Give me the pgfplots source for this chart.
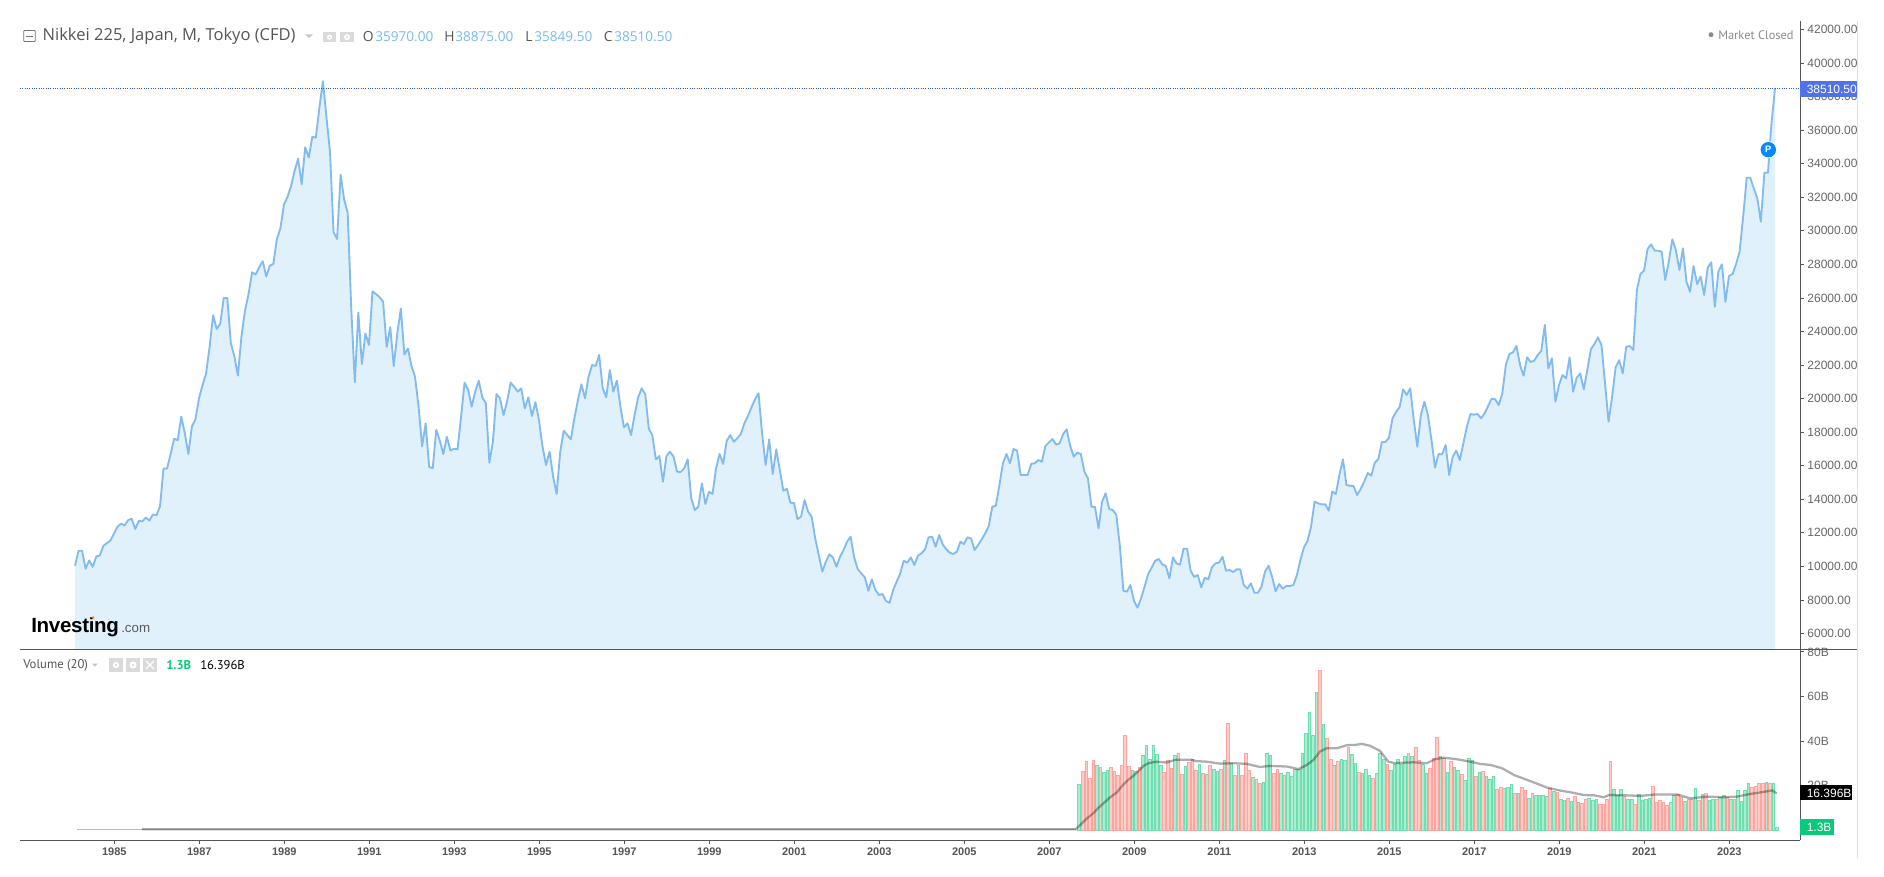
\documentclass[border=0pt]{standalone}
\usepackage{pgfplots}
\usepackage{pgfplotstable}
\usepackage{fontspec}
\pgfplotsset{compat=1.18}
\setmainfont{Liberation Sans}
\newfontfamily\hdr{PT Sans}
\newfontfamily\ttl{Open Sans}
\definecolor{lineblue}{HTML}{82BBF0}
\definecolor{fillblue}{HTML}{E1F1FB}
\definecolor{dashblue}{HTML}{2F55C8}
\definecolor{boxblue}{HTML}{4F72E6}
\definecolor{valblue}{HTML}{7AB8EE}
\definecolor{axgray}{HTML}{555555}
\definecolor{tickgray}{HTML}{666666}
\definecolor{hdrgray}{HTML}{555555}
\definecolor{icongray}{HTML}{DADADA}
\definecolor{gfill}{HTML}{ACEDD0}
\definecolor{gedge}{HTML}{6EDFB0}
\definecolor{rfill}{HTML}{FFCECA}
\definecolor{redge}{HTML}{FFA49E}
\definecolor{volgreen}{HTML}{0AC97A}
\definecolor{sepgray}{HTML}{DDE1EA}
\pgfplotstableread[row sep=\\]{
i v\\
0 10041\\1 10931\\2 10931\\3 9859\\4 10361\\5 9973\\6 10589\\7 10657\\8 11227\\9 11387\\10 11546\\11 11957\\
12 12367\\13 12549\\14 12435\\15 12755\\16 12846\\17 12230\\18 12709\\19 12686\\20 12914\\21 12732\\22 13097\\23 13051\\
24 13575\\25 15833\\26 15833\\27 16699\\28 17611\\29 17520\\30 18933\\31 17953\\32 16699\\33 18341\\34 18751\\35 20005\\
36 20803\\37 21487\\38 23083\\39 24975\\40 24155\\41 24451\\42 26001\\43 26001\\44 23311\\45 22513\\46 21373\\47 23721\\
48 25249\\49 26229\\50 27529\\51 27392\\52 27825\\53 28190\\54 27278\\55 27917\\56 28031\\57 29513\\58 30151\\59 31565\\
60 32021\\61 32659\\62 33571\\63 34301\\64 32773\\65 34985\\66 34369\\67 35600\\68 35555\\69 37333\\70 38915\\71 36763\\
72 34711\\73 29923\\74 29513\\75 33343\\76 31861\\77 31063\\78 25363\\79 20985\\80 25135\\81 22057\\82 23881\\83 23197\\
84 26389\\85 26229\\86 26047\\87 25773\\88 23083\\89 24269\\90 21943\\91 23881\\92 25363\\93 22627\\94 22992\\95 21943\\
96 21305\\97 19549\\98 17155\\99 18523\\100 15924\\101 15855\\102 18135\\103 17497\\104 16699\\105 17725\\106 16904\\107 17018\\
108 16973\\109 18924\\110 20951\\111 20514\\112 19520\\113 20414\\114 21070\\115 20076\\116 19719\\117 16182\\118 17434\\119 20275\\
120 20017\\121 19023\\122 19818\\123 20951\\124 20712\\125 20414\\126 20613\\127 19421\\128 20076\\129 18964\\130 19778\\131 18725\\
132 17136\\133 16043\\134 16838\\135 15347\\136 14314\\137 16838\\138 18089\\139 17831\\140 17573\\141 18825\\142 19917\\143 20851\\
144 20017\\145 21308\\146 22004\\147 21944\\148 22600\\149 20613\\150 20076\\151 21706\\152 20414\\153 21070\\154 19520\\155 18288\\
156 18526\\157 17831\\158 19023\\159 20076\\160 20613\\161 20275\\162 18228\\163 17831\\164 16381\\165 16579\\166 15049\\167 16579\\
168 16838\\169 16539\\170 15645\\171 15625\\172 15844\\173 16381\\174 14056\\175 13361\\176 13559\\177 14950\\178 13718\\179 14453\\
180 14314\\181 15844\\182 16699\\183 16103\\184 17474\\185 17831\\186 17434\\187 17633\\188 17891\\189 18527\\190 18964\\191 19481\\
192 19957\\193 20315\\194 17931\\195 16043\\196 17573\\197 15507\\198 16977\\199 15745\\200 14513\\201 14632\\202 13798\\203 13778\\
204 12824\\205 12963\\206 13957\\207 13261\\208 12963\\209 11672\\210 10678\\211 9685\\212 10281\\213 10718\\214 10539\\215 9983\\
216 10579\\217 10976\\218 11473\\219 11771\\220 10539\\221 9844\\222 9585\\223 9347\\224 8552\\225 9228\\226 8592\\227 8294\\
228 8353\\229 7936\\230 7837\\231 8592\\232 9089\\233 9585\\234 10340\\235 10222\\236 10539\\237 10083\\238 10639\\239 10778\\
240 11017\\241 11732\\242 11771\\243 11175\\244 11871\\245 11314\\246 11017\\247 10818\\248 10738\\249 10877\\250 11473\\251 11334\\
252 11732\\253 11672\\254 10977\\255 11275\\256 11612\\257 11970\\258 12407\\259 13560\\260 13619\\261 14851\\262 16143\\263 16699\\
264 16143\\265 16997\\266 16898\\267 15448\\268 15448\\269 15448\\270 16123\\271 16143\\272 16342\\273 16242\\274 17176\\275 17395\\
276 17593\\277 17256\\278 17335\\279 17891\\280 18170\\281 17176\\282 16540\\283 16779\\284 16699\\285 15646\\286 15249\\287 13560\\
288 13540\\289 12268\\290 13858\\291 14355\\292 13421\\293 13361\\294 13083\\295 11259\\296 8553\\297 8493\\298 8891\\299 7957\\
300 7540\\301 8096\\302 8791\\303 9546\\304 9924\\305 10341\\306 10441\\307 10123\\308 10023\\309 9288\\310 10540\\311 10182\\
312 10103\\313 11056\\314 11056\\315 9745\\316 9368\\317 9487\\318 8752\\319 9328\\320 9229\\321 9944\\322 10182\\323 10222\\
324 10580\\325 9745\\326 9785\\327 9665\\328 9825\\329 9825\\330 8891\\331 8672\\332 8990\\333 8434\\334 8434\\335 8791\\
336 9686\\337 10043\\338 9387\\339 8513\\340 8950\\341 8672\\342 8831\\343 8831\\344 8891\\345 9487\\346 10381\\347 11136\\
348 11514\\349 12368\\350 13858\\351 13759\\352 13699\\353 13699\\354 13322\\355 14474\\356 14315\\357 15448\\358 16382\\359 14850\\
360 14811\\361 14791\\362 14254\\363 14612\\364 15049\\365 15566\\366 15407\\367 16181\\368 16400\\369 17413\\370 17413\\371 17672\\
372 18824\\373 19202\\374 19500\\375 20553\\376 20215\\377 20613\\378 18725\\379 17135\\380 19023\\381 19818\\382 19023\\383 17533\\
384 15884\\385 16698\\386 16678\\387 17235\\388 15446\\389 16539\\390 16897\\391 16340\\392 17334\\393 18327\\394 19083\\395 19043\\
396 19083\\397 18824\\398 19122\\399 19559\\400 19997\\401 19957\\402 19619\\403 20314\\404 22003\\405 22659\\406 22759\\407 23136\\
408 22003\\409 21368\\410 22460\\411 22182\\412 22262\\413 22600\\414 22838\\415 24388\\416 21805\\417 22401\\418 19818\\419 20811\\
420 21405\\421 21206\\422 22458\\423 20411\\424 21246\\425 21504\\426 20551\\427 21703\\428 22935\\429 23253\\430 23650\\431 23193\\
432 20908\\433 18623\\434 20113\\435 21862\\436 22299\\437 21504\\438 23094\\439 23134\\440 22895\\441 26472\\442 27426\\443 27624\\
444 28916\\445 29194\\446 28817\\447 28817\\448 28757\\449 27068\\450 28161\\451 29492\\452 28856\\453 27664\\454 28956\\455 26969\\
456 26372\\457 27902\\458 26830\\459 27267\\460 26174\\461 27803\\462 28121\\463 25478\\464 27565\\465 28002\\466 25776\\467 27306\\
468 27426\\469 28022\\470 28757\\471 30843\\472 33168\\473 33168\\474 32532\\475 31936\\476 30545\\477 33466\\478 33466\\479 36407\\
480 38510.5\\
}\nikkei
\pgfplotstableread[row sep=\\]{
i v\\
283 20.5\\288 29.1\\290 25.9\\291 26.8\\298 26.8\\299 26.4\\301 33.6\\302 38.1\\303 31.8\\304 38.1\\305 34.0\\306 29.1\\
310 33.6\\313 28.6\\317 29.5\\319 25.0\\321 27.3\\322 26.4\\324 31.3\\326 30.0\\328 29.1\\332 23.7\\335 21.4\\336 34.5\\
337 33.6\\340 25.5\\342 25.9\\343 24.1\\344 27.3\\345 27.3\\346 34.5\\347 43.4\\348 52.9\\349 42.5\\350 61.9\\352 47.5\\
355 29.1\\357 31.8\\358 31.3\\360 34.0\\361 30.0\\363 25.5\\364 27.3\\365 24.6\\367 25.5\\368 34.5\\369 31.8\\371 26.8\\
372 29.5\\373 31.8\\374 29.5\\375 33.1\\377 33.1\\380 29.5\\381 25.5\\385 33.1\\387 25.9\\389 28.2\\390 26.8\\392 22.3\\
393 32.2\\394 31.3\\396 25.9\\398 24.1\\399 22.8\\400 24.1\\403 18.7\\404 19.2\\405 20.5\\407 16.5\\410 14.2\\412 15.6\\
413 15.6\\414 15.6\\415 15.1\\417 17.4\\419 13.8\\420 13.3\\422 12.9\\424 12.4\\427 14.2\\428 13.3\\429 13.8\\434 18.3\\
435 15.6\\436 18.3\\438 13.8\\439 13.8\\441 16.0\\442 13.3\\443 13.8\\444 14.2\\450 12.4\\451 15.6\\454 12.9\\457 18.7\\
459 16.0\\461 13.3\\462 13.8\\464 14.5\\465 15.6\\467 13.8\\469 17.8\\470 12.9\\471 17.8\\472 21.0\\477 21.4\\479 21.0\\
480 1.3\\
}\volgreen
\pgfplotstableread[row sep=\\]{
i v\\
284 26.4\\285 30.9\\286 23.2\\287 31.3\\289 28.2\\292 28.2\\293 26.4\\294 24.6\\295 29.1\\296 42.5\\297 28.6\\300 28.2\\
307 25.9\\308 31.3\\309 27.7\\311 34.5\\312 25.0\\314 30.6\\315 31.8\\316 26.8\\318 25.5\\320 29.1\\323 27.3\\325 47.9\\
327 24.6\\329 24.6\\330 34.5\\331 26.8\\333 22.8\\334 21.0\\338 25.5\\339 27.3\\341 24.6\\351 71.8\\353 41.2\\354 31.8\\
356 30.9\\359 37.2\\362 25.9\\366 23.2\\370 29.5\\376 34.5\\378 37.2\\379 31.3\\382 27.7\\383 32.2\\384 41.6\\386 32.2\\
388 30.9\\391 25.0\\395 24.1\\397 26.4\\401 18.3\\402 19.2\\406 16.5\\408 19.2\\409 17.8\\411 16.5\\416 18.7\\418 16.9\\
421 14.2\\423 15.1\\425 12.0\\426 13.8\\430 11.5\\431 11.5\\432 13.8\\433 30.9\\437 15.1\\440 11.5\\445 19.6\\446 12.4\\
447 13.3\\448 12.4\\449 11.1\\452 16.0\\453 14.5\\455 13.8\\456 13.8\\458 13.3\\460 16.5\\463 13.8\\466 14.7\\468 13.8\\
473 19.2\\474 19.6\\475 21.0\\476 21.0\\478 21.0\\
}\volred
\pgfplotstableread[row sep=\\]{
i v\\
18.4 0.3\\282 0.3\\283.3 2.2\\285.2 5.2\\287 7.5\\288.5 10.0\\289.9 12.0\\291.8 14.7\\293.6 16.8\\295 19.5\\296.5 22.0\\
298.3 24.3\\299.8 26.5\\301.2 28.8\\302.6 30.0\\304.9 30.7\\307.8 30.3\\310.1 31.5\\314.8 31.5\\316.2 30.9\\319 30.7\\
322.8 29.8\\326.6 30.0\\330.3 29.7\\334.1 28.3\\336.9 28.8\\341.6 28.5\\343.5 27.9\\344.9 27.3\\347.3 29.2\\349.2 31.5\\
351 35.2\\352.9 36.7\\355.8 36.7\\358.6 38.1\\360.9 38.2\\362.8 38.7\\365.2 37.8\\368 35.5\\370.3 30.7\\372.2 30.0\\
375.5 30.3\\377.4 30.4\\381.2 30.0\\383.5 31.8\\385.9 32.5\\389.6 31.8\\393.4 30.7\\396.2 29.7\\399.2 29.2\\402.5 27.7\\
405.8 24.7\\409.5 22.5\\413.3 20.2\\415.2 19.0\\418.9 17.7\\422.2 16.8\\425.5 15.7\\428.3 15.6\\431.2 14.7\\432.6 15.7\\
436.8 15.6\\441.5 15.3\\445.3 15.9\\451.9 15.9\\455.6 14.2\\460.3 15.0\\465 14.7\\468.8 15.0\\472.6 16.2\\476.3 17.1\\
478.7 17.8\\480 16.4\\
}\volma
\begin{document}
\begin{tikzpicture}
\path[use as bounding box] (0,0) rectangle (1413pt,657pt);
\begin{axis}[
  at={(15pt,170.25pt)},anchor=south west,scale only axis,
  width=1335pt,height=471pt,
  xmin=-15.53,xmax=487.06,ymin=5078,ymax=42507,
  axis x line=none,axis y line=right,
  axis line style={-,draw=axgray,line width=0.75pt},
  ytick={6000,8000,...,42000},
  tick align=outside,major tick length=3pt,
  tick style={draw=axgray,line width=0.6pt},
  yticklabel style={font=\fontsize{9}{10}\selectfont,text=tickgray,anchor=west,xshift=-1pt,
    /pgf/number format/fixed,/pgf/number format/fixed zerofill,/pgf/number format/precision=2,
    /pgf/number format/1000 sep={},/pgf/number format/assume math mode=true},
  scaled y ticks=false,
]
\addplot[fill=fillblue,draw=none] table[x=i,y=v] {\nikkei} \closedcycle;
\addplot[color=lineblue,line width=1.4pt,line join=round] table[x=i,y=v] {\nikkei};
\addplot[color=dashblue,line width=0.75pt,densely dotted] coordinates {(-15.53,38510.5)(487.06,38510.5)};
\end{axis}
\begin{axis}[
  at={(15pt,27pt)},anchor=south west,scale only axis,
  width=1335pt,height=143.25pt,
  xmin=-16.03,xmax=486.56,ymin=-4.5,ymax=81.3,
  axis x line=bottom,axis y line=right,
  axis line style={-,draw=axgray,line width=0.75pt},
  xtick={10.6,34.6,58.6,82.6,106.6,130.6,154.6,178.6,202.6,226.6,250.6,274.6,298.6,322.6,346.6,370.6,394.6,418.6,442.6,466.6},
  xticklabels={1985,1987,1989,1991,1993,1995,1997,1999,2001,2003,2005,2007,2009,2011,2013,2015,2017,2019,2021,2023},
  ytick={20,40,60,80},
  yticklabels={20B,40B,60B,80B},
  tick align=outside,major tick length=3pt,
  tick style={draw=axgray,line width=0.6pt},
  yticklabel style={font=\fontsize{9}{10}\selectfont,text=tickgray,anchor=west,xshift=-1pt},
  xticklabel style={font=\fontsize{8.25}{10}\selectfont\bfseries,text=axgray,yshift=1pt},
]
\addplot[color=gedge,line width=0.5pt,dash pattern=on 2pt off 2pt] coordinates {(0,0.1)(282,0.1)};
\addplot[color=redge,line width=0.5pt,dash pattern=on 2pt off 2pt,dash phase=2pt] coordinates {(0,0.1)(282,0.1)};
\addplot[ybar,bar width=1.95pt,bar shift=0pt,fill=gfill,draw=gedge,line width=0.5pt] table[x=i,y=v] {\volgreen};
\addplot[ybar,bar width=1.95pt,bar shift=0pt,fill=rfill,draw=redge,line width=0.5pt] table[x=i,y=v] {\volred};
\addplot[color=black,opacity=0.32,line width=1.7pt,line join=round] table[x=i,y=v] {\volma};
\end{axis}
\begin{scope}[shift={(0,657pt)},x=0.75pt,y=-0.75pt]
% separators
\draw[axgray,line width=0.75pt] (20,649)--(1857,649);
\draw[sepgray,line width=1pt] (1857.5,21)--(1857.5,858);
% price tag
\fill[boxblue] (1800,81) rectangle (1857,96.7);
\node[text=white,font=\fontsize{9}{10}\selectfont,anchor=west,inner sep=0pt] at (1806.5,89) {38510.50};
% P marker
\fill[color=white] (1768.3,149.7) circle (8.6);
\fill[color=black!0!blue!45!cyan] (1768.3,149.7) circle (7.7);
\node[text=white,font=\fontsize{7}{8}\selectfont\bfseries,inner sep=0pt] at (1768.3,149.5) {P};
% market closed
\fill[color=black!45] (1711,34.7) circle (2.5);
\node[text=black!45,font=\hdr\fontsize{9.3}{10}\selectfont,anchor=west,inner sep=0pt] at (1718,35) {Market Closed};
% header
\draw[color=black!55,line width=0.6pt,rounded corners=0.6pt] (23.7,30.5) rectangle (35.3,41.5);
\draw[color=black!55,line width=0.6pt] (26,36)--(33,36);
\node[text=hdrgray,font=\ttl\fontsize{12.4}{14}\selectfont,anchor=west,inner sep=0pt] at (42.4,36.5) {Nikkei 225, Japan, M, Tokyo (CFD)};
\fill[color=black!22] (305,34.5)--(313,34.5)--(309,38)--cycle;
\fill[icongray] (323,32) rectangle (336,42.5);
\fill[icongray] (340,32) rectangle (354,42.5);
\fill[white] (329.5,37.2) circle (2.6);
\fill[icongray] (329.5,37.2) circle (1.1);
\fill[white] (347,37.2) circle (3);
\fill[icongray] (347,37.2) circle (1.2);
\node[text=hdrgray,font=\ttl\fontsize{10.4}{13}\selectfont,anchor=west,inner sep=0pt] at (362.5,36.5) {O};
\node[text=valblue,font=\ttl\fontsize{10.2}{13}\selectfont,anchor=west,inner sep=0pt] at (375,36.5) {35970.00};
\node[text=hdrgray,font=\ttl\fontsize{10.4}{13}\selectfont,anchor=west,inner sep=0pt] at (444,36.5) {H};
\node[text=valblue,font=\ttl\fontsize{10.2}{13}\selectfont,anchor=west,inner sep=0pt] at (455,36.5) {38875.00};
\node[text=hdrgray,font=\ttl\fontsize{10.4}{13}\selectfont,anchor=west,inner sep=0pt] at (525,36.5) {L};
\node[text=valblue,font=\ttl\fontsize{10.2}{13}\selectfont,anchor=west,inner sep=0pt] at (534,36.5) {35849.50};
\node[text=hdrgray,font=\ttl\fontsize{10.4}{13}\selectfont,anchor=west,inner sep=0pt] at (603.5,36.5) {C};
\node[text=valblue,font=\ttl\fontsize{10.2}{13}\selectfont,anchor=west,inner sep=0pt] at (614,36.5) {38510.50};
% logo
\node[text=black,font=\fontsize{15.4}{18}\selectfont\bfseries,anchor=base west,inner sep=0pt] at (31,632) {\addfontfeature{LetterSpace=-1.5}Investing};
\fill[color=orange] (93,617.5) circle (1.5);
\node[text=black!65,font=\fontsize{10}{12}\selectfont,anchor=base west,inner sep=0pt] at (121,632) {.com};
% volume header
\node[text=hdrgray,font=\hdr\fontsize{9.5}{11}\selectfont,anchor=west,inner sep=0pt] at (23,665) {Volume (20)};
\fill[color=black!22] (92,663.5)--(98,663.5)--(95,666.5)--cycle;
\fill[icongray] (109,658) rectangle (123,672);
\fill[icongray] (126,658) rectangle (140,672);
\fill[icongray] (143,658) rectangle (157,672);
\fill[white] (116,665) circle (3.2);
\fill[icongray] (116,665) circle (1.4);
\fill[white] (133,665) circle (3.6);
\fill[icongray] (133,665) circle (1.4);
\draw[white,line width=1pt] (146,661)--(154,669) (146,669)--(154,661);
\node[text=volgreen,font=\hdr\fontsize{9.5}{11}\selectfont\bfseries,anchor=west,inner sep=0pt] at (166,665) {1.3B};
\node[text=black,font=\hdr\fontsize{9.5}{11}\selectfont,anchor=west,inner sep=0pt] at (200,665) {16.396B};
% volume tags
\fill[black] (1800,785) rectangle (1852,800);
\node[text=white,font=\fontsize{9}{10}\selectfont,anchor=west,inner sep=0pt] at (1806.5,793) {16.396B};
\fill[volgreen] (1800,819) rectangle (1834,835);
\node[text=white,font=\fontsize{9}{10}\selectfont,anchor=west,inner sep=0pt] at (1806.5,827) {1.3B};
\end{scope}
\end{tikzpicture}
\end{document}
